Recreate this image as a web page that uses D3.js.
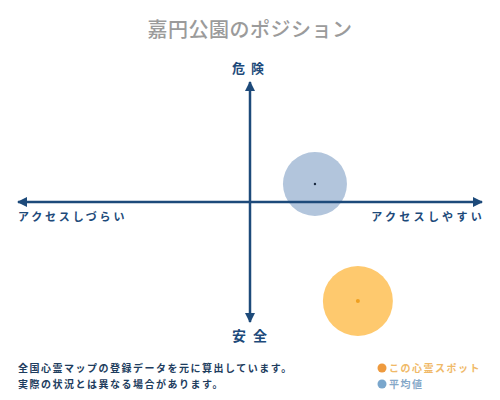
<!DOCTYPE html>
<html><head><meta charset="utf-8">
<script src="https://cdn.jsdelivr.net/npm/d3@7"></script>
<style>
html,body{margin:0;padding:0;background:#fff;}
text{font-family:"Noto Sans CJK JP","Noto Sans",sans-serif;}
</style></head>
<body><div id="chart"></div>
<script>
const title = "嘉円公園のポジション";
const axisLabels = ["危険", "安全", "アクセスしづらい", "アクセスしやすい"];
const seriesNames = ["この心霊スポット", "平均値"];
const accessValues = [46.5, 28];   // x: accessibility (-100 hard .. 100 easy)
const dangerValues = [-82.5, 15];  // y: danger (-100 safe .. 100 dangerous)
const notes = ["全国心霊マップの登録データを元に算出しています。", "実際の状況とは異なる場合があります。"];

const W = 500, H = 400;
const svg = d3.select("#chart").append("svg").attr("width", W).attr("height", H);
const axisColor = "#1d4a7a";
const fills = ["#fec96e", "#b2c5dc"];
const dotColors = ["#f0a020", "#1a2a40"];
const radii = [35, 32];
const legendDot = ["#ee9a3e", "#7aa6cc"];
const legendText = ["#f0b968", "#86a8c8"];

const x = d3.scaleLinear().domain([-100, 100]).range([18, 482]);
const y = d3.scaleLinear().domain([-100, 100]).range([322, 82]);

const defs = svg.append("defs");
defs.append("marker").attr("id", "arr").attr("viewBox", "0 0 10 10")
  .attr("refX", 9).attr("refY", 5).attr("markerWidth", 4).attr("markerHeight", 4)
  .attr("orient", "auto-start-reverse")
  .append("path").attr("d", "M0,0 L10,5 L0,10 Z").attr("fill", axisColor);

svg.append("text").attr("x", 250).attr("y", 37).attr("text-anchor", "middle")
  .attr("font-size", 20).attr("fill", "#9b9b9b").attr("font-weight", 500)
  .attr("letter-spacing", 0.5).text(title);

const data = seriesNames.map((n, i) => ({n, ax: accessValues[i], dg: dangerValues[i], i}));
svg.selectAll("circle.big").data(data).join("circle").attr("class", "big")
  .attr("cx", d => x(d.ax)).attr("cy", d => y(d.dg)).attr("r", d => radii[d.i])
  .attr("fill", d => fills[d.i]);

svg.append("line").attr("x1", x(-100)).attr("x2", x(100)).attr("y1", y(0)).attr("y2", y(0))
  .attr("stroke", axisColor).attr("stroke-width", 2.5)
  .attr("marker-start", "url(#arr)").attr("marker-end", "url(#arr)");
svg.append("line").attr("x1", x(0)).attr("x2", x(0)).attr("y1", y(-100)).attr("y2", y(100))
  .attr("stroke", axisColor).attr("stroke-width", 2.5)
  .attr("marker-start", "url(#arr)").attr("marker-end", "url(#arr)");

svg.selectAll("circle.dot").data(data).join("circle").attr("class", "dot")
  .attr("cx", d => x(d.ax)).attr("cy", d => y(d.dg)).attr("r", d => d.i === 0 ? 2 : 1.2)
  .attr("fill", d => dotColors[d.i]);

svg.append("text").attr("x", 251).attr("y", 73).attr("text-anchor", "middle")
  .attr("font-size", 13).attr("font-weight", 700).attr("fill", axisColor)
  .attr("letter-spacing", 6).text(axisLabels[0]);
svg.append("text").attr("x", 253).attr("y", 341).attr("text-anchor", "middle")
  .attr("font-size", 14).attr("font-weight", 700).attr("fill", axisColor)
  .attr("letter-spacing", 7).text(axisLabels[1]);
svg.append("text").attr("x", 18).attr("y", 221)
  .attr("font-size", 11).attr("font-weight", 700).attr("fill", axisColor)
  .attr("letter-spacing", 2.8).text(axisLabels[2]);
svg.append("text").attr("x", 485).attr("y", 221).attr("text-anchor", "end")
  .attr("font-size", 11).attr("font-weight", 700).attr("fill", axisColor)
  .attr("letter-spacing", 3.3).text(axisLabels[3]);

notes.forEach((t, i) => {
  svg.append("text").attr("x", 18).attr("y", 372 + i * 16)
    .attr("font-size", 10).attr("font-weight", 700).attr("fill", "#1e3d5e")
    .attr("letter-spacing", 1.5).text(t);
});

seriesNames.forEach((n, i) => {
  svg.append("circle").attr("cx", 382).attr("cy", 368 + i * 16).attr("r", 4.5).attr("fill", legendDot[i]);
  svg.append("text").attr("x", 389).attr("y", 372 + i * 16)
    .attr("font-size", 10).attr("font-weight", 700).attr("fill", legendText[i])
    .attr("letter-spacing", 1.5).text(n);
});
</script></body></html>
